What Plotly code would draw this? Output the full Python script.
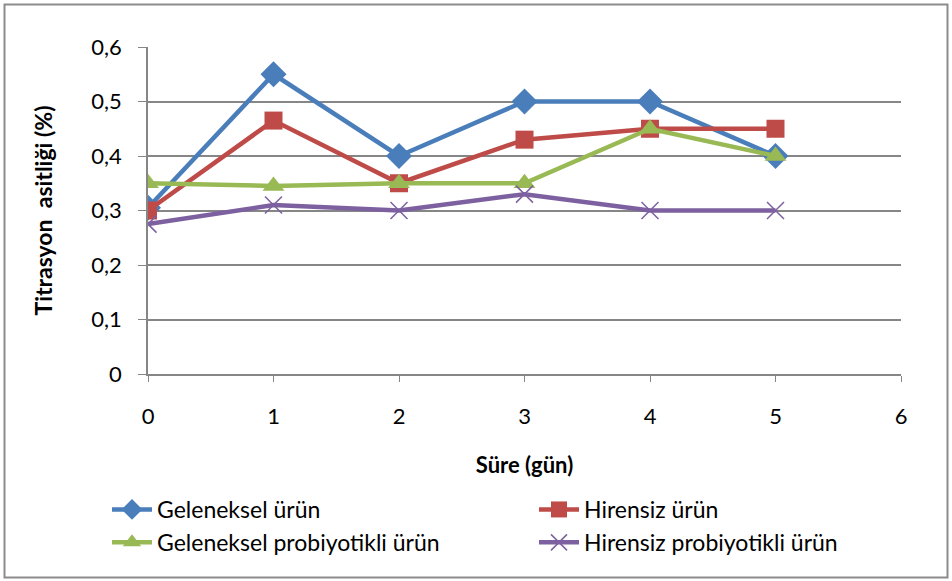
import plotly.graph_objects as go

days = [0, 1, 2, 3, 4, 5]
geleneksel = [0.305, 0.55, 0.40, 0.50, 0.50, 0.40]
hirensiz = [0.30, 0.465, 0.35, 0.43, 0.45, 0.45]
geleneksel_pro = [0.35, 0.345, 0.35, 0.35, 0.45, 0.40]
hirensiz_pro = [0.275, 0.31, 0.30, 0.33, 0.30, 0.30]

y_tickvals = [0, 0.1, 0.2, 0.3, 0.4, 0.5, 0.6]
y_ticktext = ["0", "0,1", "0,2", "0,3", "0,4", "0,5", "0,6"]
x_tickvals = [0, 1, 2, 3, 4, 5, 6]

FONT = "Lato"
W, H = 952, 581
ML, MR, MT, MB = 148, 51, 47, 207

series = [
    ("Geleneksel ürün", geleneksel, "#4A7EBB", dict(symbol="diamond", size=20)),
    ("Hirensiz ürün", hirensiz, "#BE4B48", dict(symbol="square", size=18)),
    ("Geleneksel probiyotikli ürün", geleneksel_pro, "#98B954", dict(symbol="triangle-up", size=19)),
    ("Hirensiz probiyotikli ürün", hirensiz_pro, "#7D60A0", dict(symbol="x-thin", size=17)),
]

fig = go.Figure()
for name, vals, color, mk in series:
    marker = dict(symbol=mk["symbol"], size=mk["size"], color=color)
    if mk["symbol"] == "x-thin":
        marker["line"] = dict(color=color, width=1.5)
    fig.add_trace(go.Scatter(
        x=days, y=vals, name=name, mode="lines+markers",
        line=dict(color=color, width=4.5), marker=marker,
    ))

pw = W - ML - MR
ph = H - MT - MB
def px2x(p):
    return (p - ML) / pw
def px2y(p):
    return (H - MB - p) / ph

fig.add_shape(type="rect", xref="paper", yref="paper",
              x0=px2x(4.5), x1=px2x(947.5), y0=px2y(577.5), y1=px2y(4.5),
              line=dict(color="#8C8C8C", width=2), layer="below")

fig.update_layout(
    width=W, height=H,
    margin=dict(l=ML, r=MR, t=MT, b=MB, autoexpand=False),
    paper_bgcolor="white", plot_bgcolor="white",
    font=dict(family=FONT, size=22, color="#000000"),
    showlegend=True,
    legend=dict(
        orientation="h", x=px2x(107), y=px2y(488), xanchor="left", yanchor="top",
        entrywidth=372, entrywidthmode="pixels",
        font=dict(family=FONT, size=23), tracegroupgap=0,
        itemwidth=40, bgcolor="rgba(0,0,0,0)",
    ),
    xaxis=dict(
        range=[0, 6], tickvals=x_tickvals, showgrid=False,
        showline=True, linecolor="#868686", linewidth=1.5,
        ticks="outside", ticklen=6, tickcolor="#868686",
        ticklabelstandoff=16, zeroline=False,
        title=dict(text="<b>Süre (gün)</b>", font=dict(family=FONT, size=22), standoff=29),
    ),
    yaxis=dict(
        range=[0, 0.6], tickvals=y_tickvals, ticktext=y_ticktext,
        showgrid=True, gridcolor="#868686", gridwidth=1.5,
        showline=True, linecolor="#868686", linewidth=1.5,
        ticks="outside", ticklen=8, tickcolor="#868686",
        ticklabelstandoff=12, zeroline=False,
        title=dict(text="<b>Titrasyon\u00a0 asitliği (%)</b>", font=dict(family=FONT, size=23), standoff=32),
    ),
)

fig.write_html("out.html")
